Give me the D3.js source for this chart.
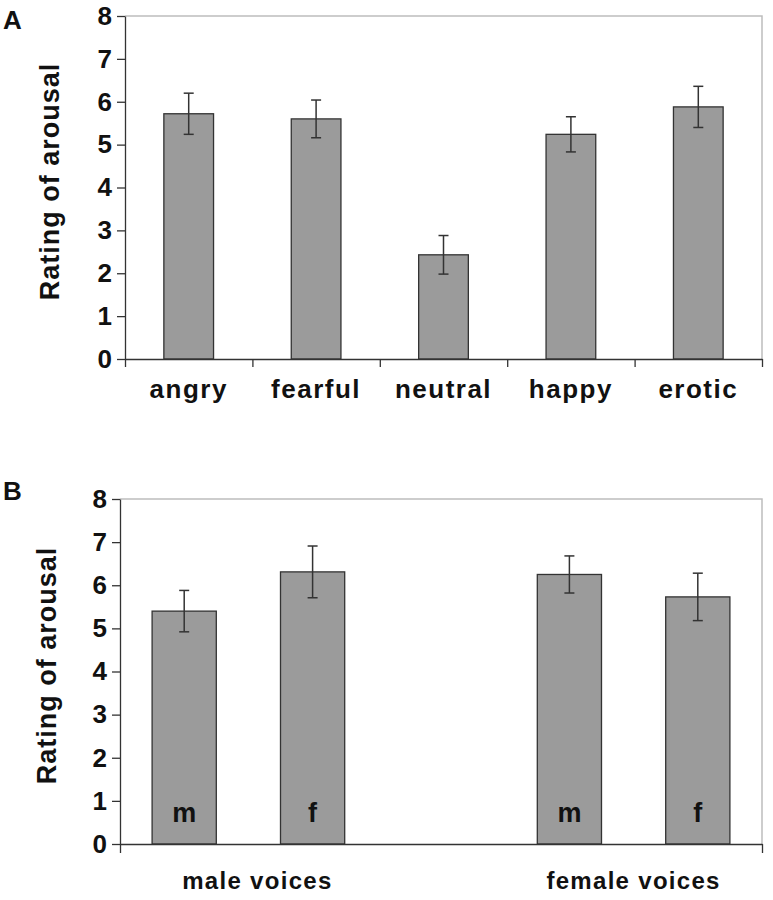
<!DOCTYPE html>
<html>
<head>
<meta charset="utf-8">
<script src="https://cdn.jsdelivr.net/npm/d3@7"></script>
<style>
  body { margin: 0; background: #fff; }
  svg text { font-family: "Liberation Sans", Arial, sans-serif; font-weight: bold; fill: #111; }
</style>
</head>
<body>
<div id="chart"></div>
<script>
// panel A: arousal rating per emotion
const emotions = ['angry', 'fearful', 'neutral', 'happy', 'erotic'];
const emotionMeans = [5.72, 5.60, 2.43, 5.24, 5.88];
const emotionErrors = [0.48, 0.44, 0.45, 0.41, 0.48];

// panel B: speaker sex x listener sex
const voiceGroups = ['male voices', '', 'female voices'];
const slots = ['mm', 'mf', 'gap', 'fm', 'ff'];
const voiceBars = ['mm', 'mf', 'fm', 'ff'];
const voiceBarLabels = ['m', 'f', 'm', 'f'];
const voiceMeans = [5.40, 6.31, 6.25, 5.73];
const voiceErrors = [0.48, 0.60, 0.43, 0.55];

const yTicks = [0, 1, 2, 3, 4, 5, 6, 7, 8];

const svg = d3.select('#chart').append('svg')
  .attr('width', 773)
  .attr('height', 900);

function drawFrame(g, w, h, y) {
  // light grey top/right frame, like the Excel plot area
  g.append('path')
    .attr('d', `M0,0H${w}V${h}`)
    .attr('fill', 'none')
    .attr('stroke', '#bdbdbd')
    .attr('stroke-width', 1.5);

  const yAxis = g.append('g')
    .call(d3.axisLeft(y).tickValues(yTicks).tickSize(8).tickPadding(5).tickSizeOuter(0));
  yAxis.selectAll('text').style('font-size', '26px');
  yAxis.selectAll('line, path').attr('stroke', '#333').attr('stroke-width', 1.3);
}

function drawBars(g, data, x, bw, y) {
  g.selectAll('rect.bar')
    .data(data)
    .join('rect')
    .attr('class', 'bar')
    .attr('x', d => x(d.key) + (x.bandwidth() - bw) / 2)
    .attr('y', d => y(d.v))
    .attr('width', bw)
    .attr('height', d => y(0) - y(d.v))
    .attr('fill', '#9b9b9b')
    .attr('stroke', '#333')
    .attr('stroke-width', 1.3);

  const cap = 5;
  const err = g.selectAll('g.err')
    .data(data)
    .join('g')
    .attr('class', 'err')
    .attr('stroke', '#333')
    .attr('stroke-width', 1.5);
  err.append('line')
    .attr('x1', d => x(d.key) + x.bandwidth() / 2)
    .attr('x2', d => x(d.key) + x.bandwidth() / 2)
    .attr('y1', d => y(d.v + d.e))
    .attr('y2', d => y(d.v - d.e));
  ['+', '-'].forEach(s => {
    err.append('line')
      .attr('x1', d => x(d.key) + x.bandwidth() / 2 - cap)
      .attr('x2', d => x(d.key) + x.bandwidth() / 2 + cap)
      .attr('y1', d => y(s === '+' ? d.v + d.e : d.v - d.e))
      .attr('y2', d => y(s === '+' ? d.v + d.e : d.v - d.e));
  });
}

function yLabel(g, h, dx) {
  g.append('text')
    .attr('transform', `translate(${dx},${h / 2 - 6}) rotate(-90)`)
    .attr('text-anchor', 'middle')
    .style('font-size', '27px')
    .style('letter-spacing', '1px')
    .text('Rating of arousal');
}

// ---- panel A ----
{
  const w = 637, h = 343;
  const g = svg.append('g').attr('transform', 'translate(125,16)');
  const x = d3.scaleBand().domain(emotions).range([0, w]).padding(0);
  const y = d3.scaleLinear().domain([0, 8]).range([h, 0]);

  drawFrame(g, w, h, y);

  const data = emotions.map((k, i) => ({ key: k, v: emotionMeans[i], e: emotionErrors[i] }));
  drawBars(g, data, x, x.bandwidth() * 0.39, y);

  // boundary ticks between categories
  const xb = d3.scaleLinear().domain([0, emotions.length]).range([0, w]);
  const xTicks = g.append('g')
    .attr('transform', `translate(0,${h})`)
    .call(d3.axisBottom(xb).ticks(emotions.length).tickSize(8).tickFormat('').tickSizeOuter(0));
  xTicks.selectAll('line, path').attr('stroke', '#333').attr('stroke-width', 1.3);

  const xLab = g.append('g')
    .attr('transform', `translate(0,${h})`)
    .call(d3.axisBottom(x).tickSize(0).tickPadding(21));
  xLab.select('.domain').remove();
  xLab.selectAll('text').style('font-size', '26px').style('letter-spacing', '1.5px');

  yLabel(g, h, -66);

  svg.append('text').attr('x', 3).attr('y', 29).style('font-size', '26px').text('A');
}

// ---- panel B ----
{
  const w = 642, h = 345;
  const g = svg.append('g').attr('transform', 'translate(120,499)');
  const x = d3.scaleBand().domain(slots).range([0, w]).padding(0);
  const y = d3.scaleLinear().domain([0, 8]).range([h, 0]);

  drawFrame(g, w, h, y);

  const data = voiceBars.map((k, i) => ({ key: k, v: voiceMeans[i], e: voiceErrors[i], lab: voiceBarLabels[i] }));
  drawBars(g, data, x, x.bandwidth() * 0.5, y);

  g.selectAll('text.barlab')
    .data(data)
    .join('text')
    .attr('class', 'barlab')
    .attr('x', d => x(d.key) + x.bandwidth() / 2)
    .attr('y', y(0) - 22)
    .attr('text-anchor', 'middle')
    .style('font-size', '27px')
    .text(d => d.lab);

  // only end ticks on this axis
  const xb = d3.scaleLinear().domain([0, slots.length]).range([0, w]);
  const xTicks = g.append('g')
    .attr('transform', `translate(0,${h})`)
    .call(d3.axisBottom(xb).tickValues([0, slots.length]).tickSize(9).tickFormat('').tickSizeOuter(0));
  xTicks.selectAll('line, path').attr('stroke', '#333').attr('stroke-width', 1.3);

  const groupCenters = [x.step() * 1.07, 0, x.step() * 4.0];
  g.selectAll('text.group')
    .data(voiceGroups.filter(d => d))
    .join('text')
    .attr('class', 'group')
    .attr('x', d => groupCenters[voiceGroups.indexOf(d)])
    .attr('y', h + 45)
    .attr('text-anchor', 'middle')
    .style('font-size', '24px')
    .style('letter-spacing', '1.3px')
    .text(d => d);

  yLabel(g, h, -64);

  svg.append('text').attr('x', 3).attr('y', 500).style('font-size', '26px').text('B');
}
</script>
</body>
</html>
